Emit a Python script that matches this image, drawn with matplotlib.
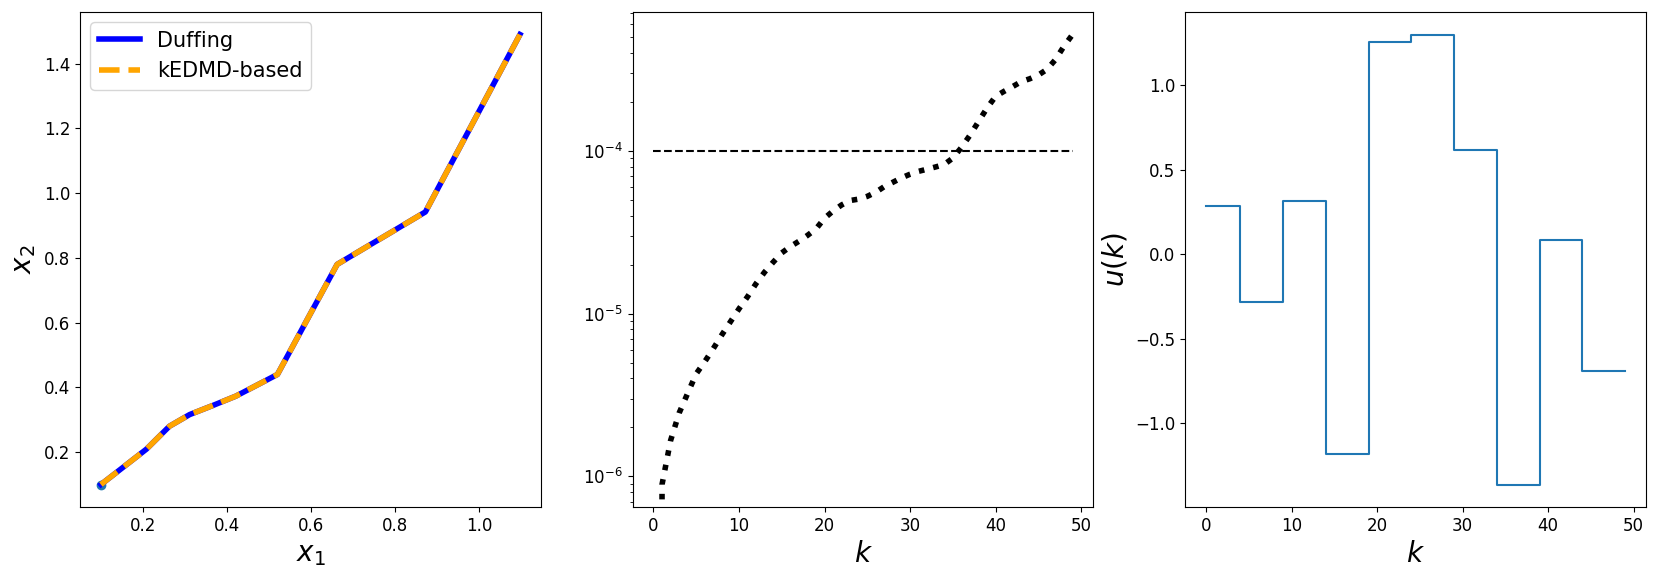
import matplotlib
matplotlib.use('Agg')
import matplotlib.pyplot as plt

# trajectory in the state plane (Duffing and the kEDMD-based prediction lie on top of each other)
x1 = [0.10, 0.208, 0.263, 0.311, 0.366, 0.421, 0.52, 0.662, 0.872, 1.097]
x2_duffing = [0.10, 0.209, 0.28, 0.316, 0.344, 0.373, 0.44, 0.78, 0.942, 1.49]
x2_kedmd = [0.10, 0.209, 0.28, 0.316, 0.344, 0.373, 0.44, 0.78, 0.942, 1.49]

# error over the horizon (k = 0 is zero and drops out on the log axis)
k = list(range(50))
err = [0.0, 8.91e-7, 1.66e-6, 2.45e-6, 3.24e-6, 4.27e-6, 5.07e-6, 6.10e-6, 7.41e-6, 8.91e-6,
       1.07e-5, 1.27e-5, 1.53e-5, 1.80e-5, 2.07e-5, 2.36e-5, 2.58e-5, 2.78e-5, 3.02e-5, 3.31e-5,
       3.85e-5, 4.27e-5, 4.65e-5, 4.95e-5, 5.05e-5, 5.25e-5, 5.57e-5, 6.03e-5, 6.41e-5, 6.82e-5,
       7.18e-5, 7.48e-5, 7.71e-5, 7.96e-5, 8.24e-5, 9.02e-5, 1.047e-4, 1.245e-4, 1.51e-4, 1.83e-4,
       2.16e-4, 2.32e-4, 2.48e-4, 2.66e-4, 2.77e-4, 2.92e-4, 3.16e-4, 3.63e-4, 4.39e-4, 5.18e-4]
tol = 1e-4

# piecewise constant input, one value per block of 5 steps
u_blocks = [0.286, -0.280, 0.315, -1.180, 1.256, 1.300, 0.617, -1.363, 0.085, -0.689]
u = [v for v in u_blocks for _ in range(5)]

fig, axs = plt.subplots(1, 3, figsize=(16.59, 5.72), dpi=100)
fig.subplots_adjust(left=0.0482, right=0.9922, top=0.979, bottom=0.1136, wspace=0.1987)

ax = axs[0]
ax.scatter(x1[0], x2_duffing[0])
ax.plot(x1, x2_duffing, color='blue', lw=4, label='Duffing')
ax.plot(x1, x2_kedmd, color='orange', lw=4, ls='--', label='kEDMD-based')
ax.set_xlabel('$x_1$', fontsize=20)
ax.set_ylabel('$x_2$', fontsize=20)
ax.legend(fontsize=15, loc='upper left')

ax = axs[1]
ax.plot(k, err, color='black', ls=':', lw=4)
ax.plot(k, [tol] * len(k), color='black', ls='--', lw=1.5)
ax.set_yscale('log')
ax.set_xlabel('$k$', fontsize=20)

ax = axs[2]
ax.step(k, u)
ax.set_xlabel('$k$', fontsize=20)
ax.set_ylabel('$u(k)$', fontsize=20)

for ax in axs:
    ax.tick_params(labelsize=12)

fig.savefig('out.png', dpi=100)
